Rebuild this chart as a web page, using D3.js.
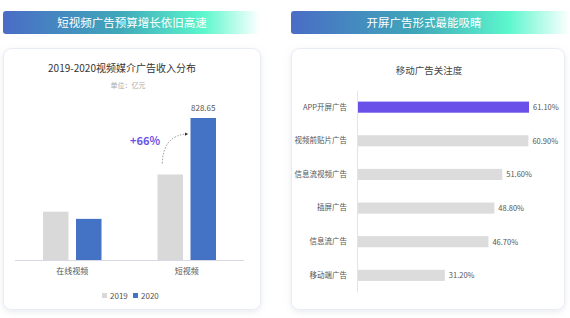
<!DOCTYPE html>
<html><head><meta charset="utf-8">
<script src="https://cdn.jsdelivr.net/npm/d3@7"></script>
<style>
html,body{margin:0;padding:0;background:#fff;}
svg{display:block;font-family:"Noto Sans CJK SC","Noto Sans",sans-serif;}
</style></head>
<body>
<svg id="c" width="570" height="318"></svg>
<script>
// Left chart data
const leftCategories = ["在线视频", "短视频"];
const leftSeries = ["2019", "2020"];
const values2019 = [282, 499];
const values2020 = [240, 828.65];
const leftTitle = "2019-2020视频媒介广告收入分布";
const leftUnit = "单位：亿元";
const growthLabel = "+66%";

// Right chart data
const rightCategories = ["APP开屏广告", "视频前贴片广告", "信息流视频广告", "插屏广告", "信息流广告", "移动端广告"];
const rightValues = [61.1, 60.9, 51.6, 48.8, 46.7, 31.2];
const rightTitle = "移动广告关注度";

const headers = ["短视频广告预算增长依旧高速", "开屏广告形式最能吸睛"];

const svg = d3.select("#c");
const defs = svg.append("defs");
const grad = defs.append("linearGradient").attr("id","hg").attr("x1","0").attr("x2","1");
grad.append("stop").attr("offset","0").attr("stop-color","#4a6cc6");
grad.append("stop").attr("offset","0.45").attr("stop-color","#3fa7b9");
grad.append("stop").attr("offset","0.78").attr("stop-color","#5cf7cd");
grad.append("stop").attr("offset","1").attr("stop-color","#ffffff");
const sh = defs.append("filter").attr("id","sh").attr("x","-10%").attr("y","-10%").attr("width","120%").attr("height","125%");
sh.append("feDropShadow").attr("dx",0).attr("dy",2).attr("stdDeviation",3).attr("flood-color","#8a93b0").attr("flood-opacity",0.18);
defs.append("marker").attr("id","arr").attr("viewBox","0 0 10 10").attr("refX",8).attr("refY",5)
  .attr("markerWidth",5).attr("markerHeight",5).attr("orient","auto")
  .append("path").attr("d","M0,0L10,5L0,10z").attr("fill","#333");

// headers
const hdr = [{x:3,w:257},{x:291,w:279}];
hdr.forEach((h,i)=>{
  svg.append("rect").attr("x",h.x).attr("y",11).attr("width",h.w).attr("height",23).attr("rx",3).attr("fill","url(#hg)");
  svg.append("text").attr("x",h.x+ (i===0?129:133)).attr("y",27).attr("text-anchor","middle")
    .attr("fill","#fff").attr("font-size",11.5).text(headers[i]);
});

// cards
svg.append("rect").attr("x",3.5).attr("y",48.5).attr("width",257).attr("height",261).attr("rx",8)
  .attr("fill","#fff").attr("stroke","#e8ecf4").attr("filter","url(#sh)");
svg.append("rect").attr("x",291.5).attr("y",48.5).attr("width",273).attr("height",261).attr("rx",8)
  .attr("fill","#fff").attr("stroke","#e8ecf4").attr("filter","url(#sh)");

// ---- Left chart ----
const L = svg.append("g");
L.append("text").attr("x",122).attr("y",72).attr("text-anchor","middle").attr("font-size",10).attr("fill","#333").text(leftTitle);
L.append("text").attr("x",128).attr("y",88).attr("text-anchor","middle").attr("font-size",7).attr("fill","#aaa").text(leftUnit);

const x0 = d3.scaleBand().domain(leftCategories).range([15,244]).paddingInner(0.0).paddingOuter(0.0);
const yL = d3.scaleLinear().domain([0,828.65]).range([260,118]);
const colL = {"2019":"#d9d9d9","2020":"#4472c4"};
const barW = 25.5, gap = 7.5;
leftCategories.forEach((c,i)=>{
  const cx = x0(c) + x0.bandwidth()/2;
  const vals = [values2019[i], values2020[i]];
  leftSeries.forEach((s,j)=>{
    const bx = cx - gap/2 - barW + j*(barW+gap);
    L.append("rect").attr("x",bx).attr("y",yL(vals[j])).attr("width",barW).attr("height",yL(0)-yL(vals[j]))
      .attr("fill",colL[s]);
  });
});
L.append("line").attr("x1",15).attr("x2",244).attr("y1",260.5).attr("y2",260.5).attr("stroke","#d6d9e0");
const xAxisL = d3.axisBottom(x0).tickSize(0).tickPadding(8);
const ax = L.append("g").attr("transform","translate(0,260)").call(xAxisL);
ax.select(".domain").remove();
ax.selectAll("text").attr("font-size",8).attr("fill","#555").attr("font-family","Noto Sans CJK SC");
// value label
const cx2 = x0("短视频") + x0.bandwidth()/2;
L.append("text").attr("x",cx2 + gap/2 + barW/2).attr("y",yL(828.65)-7).attr("text-anchor","middle")
  .attr("font-size",8).attr("fill","#555").text(d3.format(".2f")(values2020[1]));
// growth arrow
const ax0 = cx2 - 24.5, ay0 = yL(values2019[1]) - 11;
const ax1 = cx2 + gap/2 - 3, ay1 = yL(828.65) + 16;
L.append("path").attr("d",`M${ax0},${ay0} Q${ax0+1},${ay1+1} ${ax1},${ay1}`)
  .attr("fill","none").attr("stroke","#666").attr("stroke-width",0.7).attr("stroke-dasharray","1.5,1.5").attr("marker-end","url(#arr)");
L.append("text").attr("x",145).attr("y",145).attr("text-anchor","middle").attr("font-size",11).attr("font-weight","bold")
  .attr("fill","#6a55e6").text(growthLabel);
// legend
const lg = L.append("g");
leftSeries.forEach((s,j)=>{
  const lx = 102 + j*31;
  lg.append("rect").attr("x",lx).attr("y",293).attr("width",5).attr("height",5).attr("fill",colL[s]);
  lg.append("text").attr("x",lx+8).attr("y",298.5).attr("font-size",8).attr("fill","#555").text(s);
});

// ---- Right chart ----
const R = svg.append("g");
R.append("text").attr("x",429).attr("y",74).attr("text-anchor","middle").attr("font-size",9.5).attr("fill","#444").text(rightTitle);
const yR = d3.scaleBand().domain(rightCategories).range([90.5,292]).paddingInner(0.67).paddingOuter(0.33);
const xR = d3.scaleLinear().domain([0,61.1]).range([357,529]);
rightCategories.forEach((c,i)=>{
  R.append("rect").attr("x",xR(0)).attr("y",yR(c)).attr("width",xR(rightValues[i])-xR(0)).attr("height",yR.bandwidth())
    .attr("fill", i===0 ? "#6a4fe8" : "#dcdcdc");
  R.append("text").attr("x",xR(rightValues[i])+4).attr("y",yR(c)+yR.bandwidth()/2+3).attr("font-size",7.5).attr("fill","#555")
    .text(d3.format(".2f")(rightValues[i])+"%");
});
const ayR = R.append("g").attr("transform","translate(357,0)").call(d3.axisLeft(yR).tickSize(0).tickPadding(10));
ayR.select(".domain").attr("stroke","#e2e4ea");
ayR.selectAll("text").attr("font-size",7.5).attr("fill","#555").attr("font-family","Noto Sans CJK SC");
</script>
</body></html>
